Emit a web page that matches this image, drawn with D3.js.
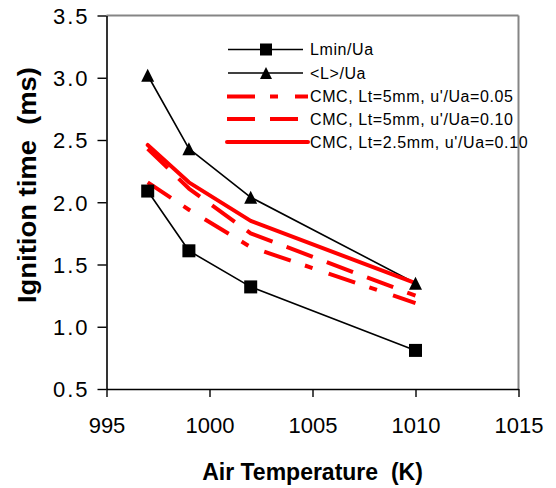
<!DOCTYPE html>
<html>
<head>
<meta charset="utf-8">
<script src="https://cdn.jsdelivr.net/npm/d3@7"></script>
<style>
  html, body { margin: 0; padding: 0; background: #fff; }
  svg { display: block; font-family: Arial, "Liberation Sans", sans-serif; }
  .pre { white-space: pre; }
</style>
</head>
<body>
<svg id="chart" width="556" height="488"></svg>
<script>
// Ignition time versus air temperature: measured and CMC-predicted series
const airTemp = [997, 999, 1002, 1010];
const lminUa = [2.09, 1.61, 1.32, 0.81];
const meanLUa = [3.02, 2.43, 2.04, 1.35];
const cmc5mm005 = [2.16, 1.94, 1.64, 1.19];
const cmc5mm010 = [2.43, 2.11, 1.75, 1.25];
const cmc25mm010 = [2.46, 2.16, 1.85, 1.35];
const seriesNames = [
  "Lmin/Ua",
  "<L>/Ua",
  "CMC, Lt=5mm, u'/Ua=0.05",
  "CMC, Lt=5mm, u'/Ua=0.10",
  "CMC, Lt=2.5mm, u'/Ua=0.10"
];
const xTicks = [995, 1000, 1005, 1010, 1015];
const yTicks = [0.5, 1.0, 1.5, 2.0, 2.5, 3.0, 3.5];
const xTitle = "Air Temperature  (K)";
const yTitle = "Ignition time  (ms)";

const svg = d3.select("#chart");
const plot = { left: 106.5, right: 518.5, top: 15.5, bottom: 389 };

const x = d3.scaleLinear().domain([995, 1015]).range([plot.left, plot.right]);
const y = d3.scaleLinear().domain([0.5, 3.5]).range([plot.bottom, plot.top]);

svg.append("rect").attr("width", 556).attr("height", 488).attr("fill", "#fff");

// gray frame on top and right
svg.append("line")
  .attr("x1", plot.left).attr("x2", plot.right)
  .attr("y1", plot.top).attr("y2", plot.top)
  .attr("stroke", "#858585").attr("stroke-width", 2);
svg.append("line")
  .attr("x1", plot.right).attr("x2", plot.right)
  .attr("y1", plot.top).attr("y2", plot.bottom)
  .attr("stroke", "#858585").attr("stroke-width", 2);

// axes
const xAxis = svg.append("g")
  .attr("transform", `translate(0,${plot.bottom})`)
  .call(d3.axisBottom(x).tickValues(xTicks).tickSize(8).tickSizeOuter(0).tickFormat(d3.format("d")));
xAxis.select(".domain").attr("stroke", "#000").attr("stroke-width", 1.6);
xAxis.selectAll(".tick line").attr("stroke", "#000").attr("stroke-width", 1.4);
xAxis.selectAll(".tick text")
  .attr("y", 44).attr("dy", 0)
  .attr("font-size", 22).attr("font-family", "Arial, 'Liberation Sans', sans-serif")
  .attr("fill", "#000");

const yAxis = svg.append("g")
  .attr("transform", `translate(${plot.left},0)`)
  .call(d3.axisLeft(y).tickValues(yTicks).tickSize(9).tickSizeOuter(0).tickFormat(d3.format(".1f")));
yAxis.select(".domain").attr("stroke", "#000").attr("stroke-width", 1.6);
yAxis.selectAll(".tick line").attr("stroke", "#000").attr("stroke-width", 1.4);
yAxis.selectAll(".tick text")
  .attr("x", -17).attr("dy", "0.36em")
  .attr("font-size", 22).attr("letter-spacing", 2)
  .attr("font-family", "Arial, 'Liberation Sans', sans-serif")
  .attr("fill", "#000");

// axis titles
svg.append("text").attr("class", "pre")
  .attr("x", (plot.left + plot.right) / 2).attr("y", 480)
  .attr("text-anchor", "middle")
  .attr("font-size", 23).attr("font-weight", "bold")
  .text(xTitle);
svg.append("text").attr("class", "pre")
  .attr("transform", "translate(36,185) rotate(-90)")
  .attr("text-anchor", "middle")
  .attr("font-size", 25).attr("font-weight", "bold")
  .attr("textLength", 236).attr("lengthAdjust", "spacingAndGlyphs")
  .text(yTitle);

const line = d3.line().x((d, i) => x(airTemp[i])).y(d => y(d));

// series styles
const styles = [
  { data: lminUa, stroke: "#000", width: 1.6, dash: null, cap: "butt", marker: "square" },
  { data: meanLUa, stroke: "#000", width: 1.6, dash: null, cap: "butt", marker: "triangle" },
  { data: cmc5mm005, stroke: "#ff0000", width: 4, dash: "28,15,8,17", cap: "butt", marker: null },
  { data: cmc5mm010, stroke: "#ff0000", width: 4, dash: "28,15", cap: "butt", marker: null },
  { data: cmc25mm010, stroke: "#ff0000", width: 4, dash: null, cap: "round", marker: null }
];

styles.forEach(s => {
  svg.append("path")
    .datum(s.data)
    .attr("d", line)
    .attr("fill", "none")
    .attr("stroke", s.stroke)
    .attr("stroke-width", s.width)
    .attr("stroke-linejoin", "round")
    .attr("stroke-linecap", s.cap)
    .attr("stroke-dasharray", s.dash);
});

const triPath = (h) => `M0,${-h / 2}L${h / 2},${h / 2}L${-h / 2},${h / 2}Z`;

function drawMarker(g, type, cx, cy, size) {
  if (type === "square") {
    g.append("rect")
      .attr("x", cx - size / 2).attr("y", cy - size / 2)
      .attr("width", size).attr("height", size)
      .attr("fill", "#000");
  } else if (type === "triangle") {
    g.append("path")
      .attr("transform", `translate(${cx},${cy})`)
      .attr("d", triPath(size))
      .attr("fill", "#000");
  }
}

const markers = svg.append("g");
styles.forEach(s => {
  if (!s.marker) return;
  s.data.forEach((v, i) => drawMarker(markers, s.marker, x(airTemp[i]), y(v), 13));
});

// legend
const legend = svg.append("g");
const legRows = [49.5, 73, 96.5, 119, 142];
styles.forEach((s, i) => {
  const ly = legRows[i];
  const isRed = s.stroke !== "#000";
  legend.append("line")
    .attr("x1", isRed ? 227 : 228).attr("x2", isRed ? 308 : 303)
    .attr("y1", ly).attr("y2", ly)
    .attr("stroke", s.stroke)
    .attr("stroke-width", s.width)
    .attr("stroke-linecap", s.cap)
    .attr("stroke-dasharray", s.dash);
  if (s.marker) drawMarker(legend, s.marker, 266, ly, 12);
  legend.append("text")
    .attr("x", 310).attr("y", ly + 5.5)
    .attr("font-size", 16).attr("letter-spacing", 0.6)
    .attr("fill", "#000")
    .text(seriesNames[i]);
});
</script>
</body>
</html>
